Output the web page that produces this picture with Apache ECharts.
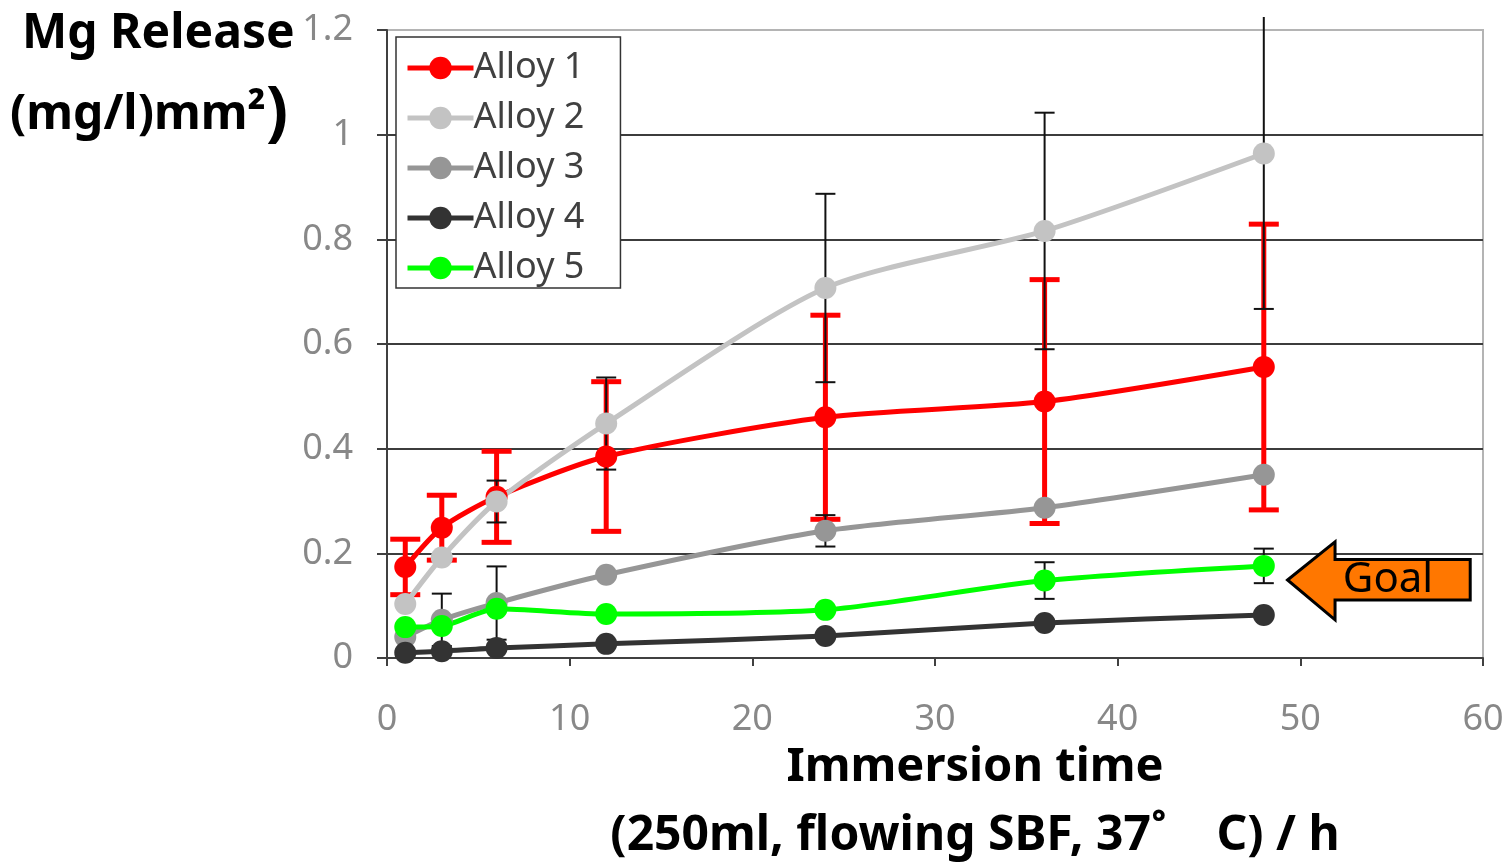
<!DOCTYPE html>
<html>
<head>
<meta charset="utf-8">
<script src="https://cdn.jsdelivr.net/npm/echarts@6/dist/echarts.min.js"></script>
<style>
  html, body { margin: 0; padding: 0; background: #fff; }
  #chart { width: 1510px; height: 864px; }
</style>
</head>
<body>
<div id="chart"></div>
<script>
// immersion time points (h)
const hours = [1, 3, 6, 12, 24, 36, 48];

// mean Mg release per alloy
const alloy1 = [0.174, 0.249, 0.308, 0.385, 0.46, 0.49, 0.556];
const alloy2 = [0.103, 0.192, 0.299, 0.448, 0.707, 0.816, 0.964];
const alloy3 = [0.04, 0.073, 0.105, 0.159, 0.243, 0.287, 0.35];
const alloy4 = [0.01, 0.013, 0.019, 0.027, 0.042, 0.067, 0.082];
const alloy5 = [0.059, 0.061, 0.094, 0.084, 0.092, 0.148, 0.176];

// +/- error per point (0 = no bar drawn)
const err1 = [0.053, 0.062, 0.087, 0.143, 0.195, 0.233, 0.273];
const err2 = [0, 0, 0.04, 0.088, 0.18, 0.226, 0.297];
const err3 = [0, 0.05, 0.07, 0, 0.03, 0, 0];
const err5 = [0, 0, 0, 0, 0, 0.035, 0.033];

const yTicks = [0, 0.2, 0.4, 0.6, 0.8, 1, 1.2];
const xTicks = [0, 10, 20, 30, 40, 50, 60];

// goal arrow outline, in data units (annotation)
const goalArrow = [
  [49.3, 0.149], [51.9, 0.222], [51.9, 0.188], [59.3, 0.188],
  [59.3, 0.111], [51.9, 0.111], [51.9, 0.073]
];
const goalLabelAt = [54.8, 0.149];

const chart = echarts.init(document.getElementById('chart'));

const toPairs = (ys) => hours.map((h, i) => [h, ys[i]]);

function lineSeries(name, color, ys) {
  return {
    name: name,
    type: 'line',
    data: toPairs(ys),
    smooth: 0.25,
    symbol: 'circle',
    symbolSize: 22,
    z: 3,
    lineStyle: { color: color, width: 5 },
    itemStyle: { color: color },
    emphasis: { disabled: true }
  };
}

function errorSeries(color, width, capW, ys, errs) {
  const data = [];
  hours.forEach((h, i) => {
    if (errs[i] > 0) data.push([h, ys[i] - errs[i], ys[i] + errs[i]]);
  });
  return {
    type: 'custom',
    z: 1,
    silent: true,
    clip: false,
    data: data,
    encode: { x: 0, y: [1, 2] },
    renderItem: function (params, api) {
      const x = api.value(0);
      const hi = api.value(2);
      const capTop = hi <= 1.2;
      const top = api.coord([x, Math.min(hi, 1.225)]);
      const bot = api.coord([x, api.value(1)]);
      const st = { stroke: color, lineWidth: width };
      const kids = [
        { type: 'line', shape: { x1: top[0], y1: top[1], x2: bot[0], y2: bot[1] }, style: st },
        { type: 'line', shape: { x1: bot[0] - capW / 2, y1: bot[1], x2: bot[0] + capW / 2, y2: bot[1] }, style: st }
      ];
      if (capTop) {
        kids.push({ type: 'line', shape: { x1: top[0] - capW / 2, y1: top[1], x2: top[0] + capW / 2, y2: top[1] }, style: st });
      }
      return { type: 'group', children: kids };
    }
  };
}

chart.setOption({
  animation: false,
  textStyle: { fontFamily: 'Noto Sans' },
  grid: {
    left: 387, right: 27, top: 30, bottom: 206,
    show: true, borderColor: '#b4b4b4', borderWidth: 2, backgroundColor: '#fff'
  },
  legend: {
    orient: 'vertical',
    left: 396, top: 37,
    padding: [13, 36, 2, 9],
    itemWidth: 66, itemHeight: 28, itemGap: 14,
    backgroundColor: '#fff',
    borderColor: '#333', borderWidth: 1.5,
    lineStyle: { width: 5 },
    textStyle: { fontSize: 36, color: '#404040', lineHeight: 32, padding: [0, 0, 0, -5] },
    data: ['Alloy 1', 'Alloy 2', 'Alloy 3', 'Alloy 4', 'Alloy 5']
  },
  xAxis: {
    type: 'value',
    min: xTicks[0], max: xTicks[xTicks.length - 1], interval: 10,
    axisLine: { lineStyle: { color: '#404040', width: 2 } },
    axisTick: { show: true, length: 8, lineStyle: { color: '#404040', width: 2 } },
    axisLabel: { fontSize: 36, color: '#888', margin: 44 },
    splitLine: { show: false }
  },
  yAxis: {
    type: 'value',
    min: yTicks[0], max: yTicks[yTicks.length - 1], interval: 0.2,
    axisLine: { show: true, lineStyle: { color: '#404040', width: 2 } },
    axisTick: { show: true, length: 10, lineStyle: { color: '#404040', width: 2 } },
    axisLabel: { fontSize: 36, color: '#888', margin: 34 },
    splitLine: { show: true, showMaxLine: false, lineStyle: { color: '#3c3c3c', width: 2 } }
  },
  graphic: [
    { type: 'text', left: 22, top: 10, style: { text: 'Mg Release', font: 'bold 48px "Noto Sans"', fill: '#000' } },
    {
      type: 'text', left: 10, top: 82,
      style: {
        text: '{a|(mg/l)mm²}{b|)}',
        rich: {
          a: { font: 'bold 48px "Noto Sans"', fill: '#000' },
          b: { font: 'bold 66px "Noto Sans"', fill: '#000' }
        }
      }
    },
    { type: 'text', x: 975, y: 768, style: { text: 'Immersion time', font: 'bold 47px "Noto Sans"', fill: '#000', align: 'center', verticalAlign: 'middle' } },
    { type: 'text', x: 975, y: 836, style: { text: '(250ml, flowing SBF, 37˚    C) / h', font: 'bold 48px "Noto Sans"', fill: '#000', align: 'center', verticalAlign: 'middle' } }
  ],
  series: [
    errorSeries('#ff0000', 5, 30, alloy1, err1),
    errorSeries('#111', 2, 20, alloy2, err2),
    errorSeries('#111', 2, 20, alloy3, err3),
    errorSeries('#111', 2, 20, alloy5, err5),
    lineSeries('Alloy 1', '#ff0000', alloy1),
    lineSeries('Alloy 2', '#c3c3c3', alloy2),
    lineSeries('Alloy 3', '#969696', alloy3),
    lineSeries('Alloy 4', '#333333', alloy4),
    lineSeries('Alloy 5', '#00ff00', alloy5),
    {
      type: 'custom',
      z: 5,
      silent: true,
      clip: false,
      data: [goalLabelAt],
      renderItem: function (params, api) {
        const pts = goalArrow.map(p => api.coord(p));
        const c = api.coord(goalLabelAt);
        return {
          type: 'group',
          children: [
            { type: 'polygon', shape: { points: pts }, style: { fill: '#ff7700', stroke: '#000', lineWidth: 3 } },
            { type: 'text', x: c[0], y: c[1], style: { text: 'Goal', font: '42px "Noto Sans"', fill: '#000', align: 'center', verticalAlign: 'middle' } }
          ]
        };
      }
    }
  ]
});
</script>
</body>
</html>
